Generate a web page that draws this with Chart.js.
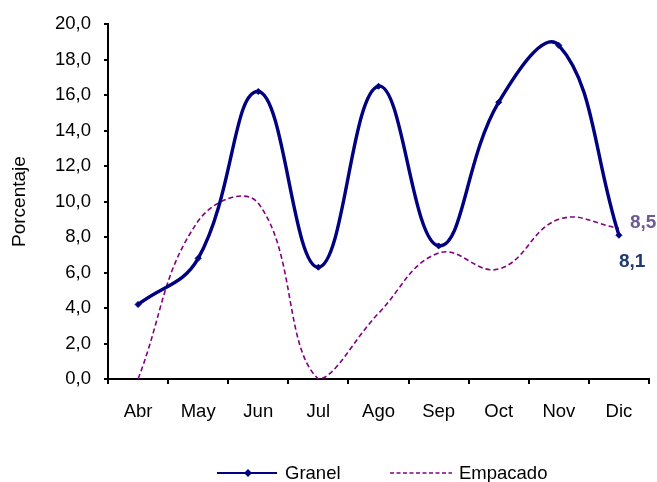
<!DOCTYPE html>
<html>
<head>
<meta charset="utf-8">
<script src="https://cdn.jsdelivr.net/npm/chart.js@4.4.1/dist/chart.umd.min.js"></script>
<style>
html,body{margin:0;padding:0;background:#fff;}
canvas{display:block;}
</style>
</head>
<body>
<canvas id="c" width="657" height="482"></canvas>
<script>
const categories = ['Abr','May','Jun','Jul','Ago','Sep','Oct','Nov','Dic'];
const granel = [4.2, 6.8, 16.2, 6.3, 16.5, 7.5, 15.6, 18.8, 8.1];
const empacado = [0.0, 8.9, 9.9, 0.0, 3.7, 7.1, 6.2, 9.0, 8.5];
const yTicks = [0, 2, 4, 6, 8, 10, 12, 14, 16, 18, 20];
const seriesNames = ['Granel', 'Empacado'];
const yTitle = 'Porcentaje';

const FONT = "'Liberation Sans', Arial, sans-serif";
const fmt = v => Number(v).toFixed(1).replace('.', ',');

const legendPlugin = {
  id: 'customLegend',
  afterDraw(chart) {
    const ctx = chart.ctx;
    const y = 473;
    ctx.save();
    ctx.strokeStyle = '#000080';
    ctx.lineWidth = 2;
    ctx.setLineDash([]);
    ctx.beginPath(); ctx.moveTo(217, y); ctx.lineTo(277, y); ctx.stroke();
    ctx.fillStyle = '#000080';
    ctx.beginPath(); ctx.moveTo(248, y - 4); ctx.lineTo(252, y); ctx.lineTo(248, y + 4); ctx.lineTo(244, y); ctx.closePath(); ctx.fill();
    ctx.strokeStyle = '#800080';
    ctx.lineWidth = 1.5;
    ctx.setLineDash([4, 2.5]);
    ctx.beginPath(); ctx.moveTo(390, y); ctx.lineTo(452, y); ctx.stroke();
    ctx.setLineDash([]);
    ctx.fillStyle = '#000';
    ctx.font = '18.5px ' + FONT;
    ctx.textBaseline = 'middle';
    ctx.textAlign = 'left';
    ctx.fillText(seriesNames[0], 285, y + 1);
    ctx.fillText(seriesNames[1], 459, y + 1);
    ctx.restore();
  }
};

const endLabelPlugin = {
  id: 'endLabels',
  afterDraw(chart) {
    const ctx = chart.ctx;
    ctx.save();
    ctx.font = 'bold 19px ' + FONT;
    ctx.textBaseline = 'middle';
    ctx.textAlign = 'left';
    const m0 = chart.getDatasetMeta(0);
    const m1 = chart.getDatasetMeta(1);
    const p0 = m0.data[m0.data.length - 1];
    const p1 = m1.data[m1.data.length - 1];
    ctx.fillStyle = '#6B5B95';
    ctx.fillText(fmt(empacado[empacado.length - 1]), p1.x + 11, p1.y - 5);
    ctx.fillStyle = '#1F3A6E';
    ctx.fillText(fmt(granel[granel.length - 1]), p0.x, p0.y + 27);
    ctx.restore();
  }
};

new Chart(document.getElementById('c'), {
  type: 'line',
  data: {
    labels: categories,
    datasets: [
      {
        label: seriesNames[0],
        data: granel,
        borderColor: '#000080',
        backgroundColor: '#000080',
        borderWidth: 3.4,
        tension: 0.42,
        pointStyle: 'rectRot',
        pointRadius: 3,
        pointBackgroundColor: '#000080',
        pointBorderColor: '#000080',
        pointBorderWidth: 1,
        fill: false,
        order: 1
      },
      {
        label: seriesNames[1],
        data: empacado,
        borderColor: '#800080',
        borderWidth: 1.6,
        borderDash: [5, 3],
        tension: 0.42,
        pointRadius: 0,
        fill: false,
        order: 2
      }
    ]
  },
  options: {
    responsive: false,
    animation: false,
    events: [],
    layout: { padding: { left: 0, right: 8, top: 21, bottom: 0 } },
    plugins: {
      legend: { display: false },
      tooltip: { enabled: false }
    },
    scales: {
      x: {
        type: 'category',
        offset: true,
        grid: {
          offset: true,
          drawOnChartArea: false,
          drawTicks: true,
          tickLength: 5,
          color: '#000',
          lineWidth: 2
        },
        border: { color: '#000', width: 2 },
        ticks: {
          color: '#000',
          font: { family: FONT, size: 18.5 },
          padding: 17,
          maxRotation: 0,
          autoSkip: false
        },
        afterFit(scale) { scale.height = 103; }
      },
      y: {
        min: 0,
        max: 20,
        afterBuildTicks(scale) { scale.ticks = yTicks.map(v => ({ value: v })); },
        grid: {
          drawOnChartArea: false,
          drawTicks: true,
          tickLength: 4,
          color: '#000',
          lineWidth: 2
        },
        border: { color: '#000', width: 2 },
        ticks: {
          color: '#000',
          font: { family: FONT, size: 18.5 },
          padding: 13,
          callback: v => fmt(v)
        },
        title: {
          display: true,
          text: yTitle,
          color: '#000',
          font: { family: FONT, size: 19 },
          padding: { top: 8, bottom: 0 }
        },
        afterFit(scale) { scale.width = 108; }
      }
    }
  },
  plugins: [legendPlugin, endLabelPlugin]
});
</script>
</body>
</html>
